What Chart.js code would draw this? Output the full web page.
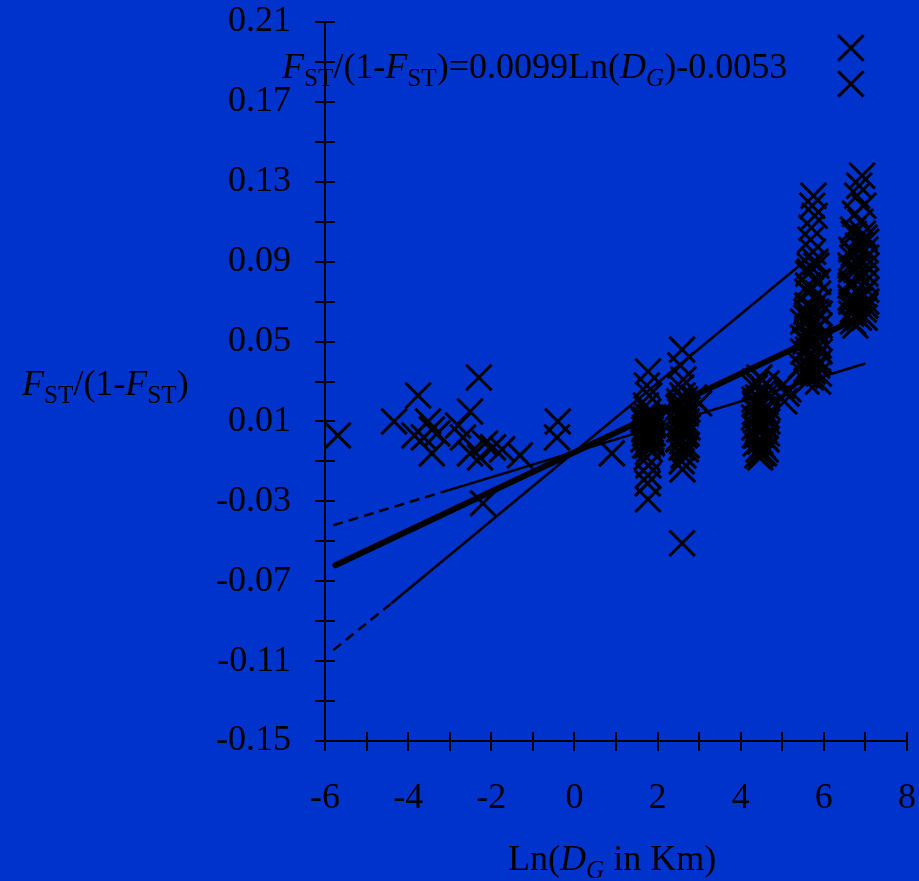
<!DOCTYPE html>
<html>
<head>
<meta charset="utf-8">
<title>Fst vs ln distance</title>
<script src="https://cdn.jsdelivr.net/npm/chart.js@4.4.1/dist/chart.umd.min.js"></script>
<style>
  html, body { margin: 0; padding: 0; background: #0033cc; }
  #wrap { width: 919px; height: 881px; }
</style>
</head>
<body>
<div id="wrap"><canvas id="fstChart" width="919" height="881"></canvas></div>
<script>
// pairwise points: x = Ln(DG in km), y = Fst/(1-Fst)
const lnDistance = [
  // short distances
  -5.69, -4.34, -3.76, -3.52, -3.43, -3.62, -3.43, -3.30, -3.85,
  -2.51, -2.30, -2.80, -2.68, -2.51, -2.15, -2.27, -1.96, -1.74, -1.31,
  -0.40, -0.42, 0.90, -2.20,
  // ~1.8
  1.77, 1.74, 1.80, 1.72, 1.78, 1.83, 1.75, 1.80, 1.70, 1.77, 1.84, 1.73, 1.79, 1.76,
  1.81, 1.74, 1.78, 1.77, 1.76, 1.77, 1.82, 1.75, 1.79, 1.71,
  1.85, 1.70, 1.88, 1.68, 1.86, 1.72, 1.90, 1.66,
  1.68, 1.88, 1.70, 1.90, 1.66, 1.86, 1.74, 1.84,
  // ~2.6
  2.59, 2.55, 2.62, 2.57, 2.60, 2.66, 2.54, 2.61, 2.58, 2.63, 2.56, 2.60, 2.65,
  2.59, 2.57, 2.62, 2.58, 2.60, 2.59, 3.00, 2.88,
  2.70, 2.52, 2.68, 2.50, 2.72, 2.53, 2.70, 2.55,
  2.52, 2.70, 2.50, 2.72, 2.54, 2.68, 2.52, 2.72,
  // ~4.5
  4.45, 4.38, 4.52, 4.58, 4.42, 4.50, 4.38, 4.55, 4.45, 4.60, 4.40, 4.50,
  4.56, 4.42, 4.48, 4.38, 4.58, 4.47, 4.52, 4.43, 4.49, 4.47,
  4.35, 4.62, 4.33, 4.63, 4.36, 4.62, 4.34, 4.60, 4.65, 4.32,
  4.35, 4.62, 4.33, 4.64, 4.36, 4.62, 4.34, 4.60, 4.40, 4.56,
  // ~5.1
  5.00, 5.10, 5.05, 5.15,
  // ~5.7
  5.75, 5.72, 5.78, 5.70, 5.68, 5.74, 5.80, 5.66, 5.84, 5.70, 5.76, 5.62,
  5.82, 5.68, 5.74, 5.79, 5.64, 5.72, 5.83, 5.70, 5.76, 5.66, 5.73, 5.69,
  5.50, 5.45, 5.50, 5.55, 5.50,
  5.60, 5.88, 5.58, 5.90, 5.60, 5.88, 5.60, 5.90, 5.62, 5.86, 5.58, 5.88,
  5.58, 5.90, 5.60, 5.88, 5.56, 5.90, 5.62, 5.86, 5.58, 5.86, 5.62, 5.84, 5.66, 5.82,
  // ~6.8
  6.65, 6.65,
  6.92, 6.85, 6.80, 6.95, 6.75, 6.88, 6.70, 6.98, 6.82, 6.72, 6.90, 6.78,
  6.86, 6.68, 6.94, 6.80, 6.74, 6.84, 6.76,
  6.66, 7.02, 6.64, 7.00, 6.66, 7.02, 6.64, 7.00, 6.66, 7.02, 6.70, 6.98,
  6.66, 7.02, 6.64, 7.00, 6.68, 7.02, 6.66, 7.00, 6.70, 6.96, 6.72, 6.94
];
const fstRatio = [
  0.003, 0.010, 0.023, 0.010, 0.006, 0.002, -0.006, 0.004, 0.003,
  0.015, 0.032, 0.008, 0.002, -0.006, -0.001, -0.008, -0.003, -0.004, -0.007,
  0.010, 0.002, -0.006, -0.031,
  0.035, 0.028, 0.023, 0.018, 0.015, 0.012, 0.010, 0.008, 0.007, 0.006, 0.004, 0.003, 0.001, -0.002,
  -0.004, -0.008, -0.012, -0.017, -0.021, -0.029, 0.009, 0.005, 0.000, 0.011,
  0.002, 0.004, 0.008, 0.010, -0.001, 0.007, 0.012, 0.001,
  0.006, 0.004, -0.002, 0.009, 0.011, 0.000, 0.013, 0.006,
  0.046, 0.038, 0.031, 0.027, 0.023, 0.021, 0.018, 0.016, 0.013, 0.011, 0.008, 0.006, 0.003,
  0.000, -0.003, -0.007, -0.010, -0.014, -0.051, 0.019, 0.022,
  0.004, 0.009, 0.014, 0.017, 0.019, 0.002, -0.002, 0.012,
  0.006, 0.010, 0.001, 0.007, 0.015, -0.004, 0.020, 0.016,
  0.032, 0.029, 0.027, 0.025, 0.022, 0.020, 0.018, 0.016, 0.014, 0.012, 0.011, 0.009,
  0.008, 0.006, 0.005, 0.003, 0.002, 0.000, -0.002, -0.004, -0.006, -0.008,
  0.019, 0.013, 0.007, 0.004, -0.001, 0.023, 0.027, -0.004, 0.017, 0.012,
  0.030, 0.029, 0.021, 0.010, 0.015, 0.001, 0.003, 0.008, -0.007, -0.006,
  0.028, 0.024, 0.020, 0.026,
  0.123, 0.118, 0.113, 0.107, 0.101, 0.095, 0.090, 0.085, 0.080, 0.076, 0.072, 0.068,
  0.065, 0.062, 0.059, 0.056, 0.053, 0.050, 0.047, 0.044, 0.041, 0.038, 0.035, 0.032,
  0.045, 0.038, 0.052, 0.033, 0.060,
  0.075, 0.070, 0.065, 0.058, 0.055, 0.048, 0.042, 0.040, 0.084, 0.080, 0.036, 0.034,
  0.062, 0.064, 0.068, 0.052, 0.050, 0.045, 0.078, 0.074, 0.030, 0.030, 0.046, 0.038, 0.088, 0.088,
  0.197, 0.179,
  0.133, 0.128, 0.123, 0.118, 0.114, 0.110, 0.106, 0.102, 0.098, 0.094, 0.090, 0.086,
  0.082, 0.078, 0.074, 0.070, 0.066, 0.062, 0.058,
  0.096, 0.092, 0.088, 0.084, 0.080, 0.076, 0.072, 0.068, 0.064, 0.100, 0.060, 0.062,
  0.070, 0.070, 0.078, 0.080, 0.092, 0.088, 0.086, 0.096, 0.066, 0.066, 0.104, 0.104
];

// fitted lines (end points)
const mainFitX = [-5.75, 6.95];
const mainFitY = [-0.062, 0.063];
const steepFitX = [-5.8, -4.4, 5.7];
const steepFitY = [-0.1045, -0.081, 0.093];
const flatFitX = [-5.8, -3.2, 7.0];
const flatFitY = [-0.042, -0.0255, 0.039];

const SERIF = '"Liberation Serif", "Times New Roman", serif';

function pairs(xs, ys) {
  return xs.map((x, i) => ({ x: x, y: ys[i] }));
}

// writes a label made of plain / italic / subscript pieces
function drawRich(c, parts, x, y, size) {
  let cx = x;
  parts.forEach(p => {
    const fs = p.sub ? size * 0.7 : size;
    c.font = (p.it ? 'italic ' : '') + fs + 'px ' + SERIF;
    c.fillText(p.t, cx, p.sub ? y + size * 0.22 : y);
    cx += c.measureText(p.t).width;
  });
}

const eqParts = [
  { t: 'F', it: true }, { t: 'ST', sub: true }, { t: '/(1-' },
  { t: 'F', it: true }, { t: 'ST', sub: true }, { t: ')=0.0099Ln(' },
  { t: 'D', it: true }, { t: 'G', it: true, sub: true }, { t: ')-0.0053' }
];
const yTitleParts = [
  { t: 'F', it: true }, { t: 'ST', sub: true }, { t: '/(1-' },
  { t: 'F', it: true }, { t: 'ST', sub: true }, { t: ')' }
];
const xTitleParts = [
  { t: 'Ln(' }, { t: 'D', it: true }, { t: 'G', it: true, sub: true }, { t: ' in Km)' }
];

const bluePaper = {
  id: 'bluePaper',
  beforeDraw(chart) {
    const c = chart.ctx;
    c.save();
    c.fillStyle = '#0033cc';
    c.fillRect(0, 0, chart.width, chart.height);
    c.restore();
  }
};

// tick marks that cross the axis line, plus the texts with subscripts
const axisDecor = {
  id: 'axisDecor',
  afterDraw(chart) {
    const c = chart.ctx;
    const xs = chart.scales.x, ys = chart.scales.y;
    c.save();
    c.strokeStyle = '#000';
    c.lineWidth = 2;
    c.beginPath();
    ys.ticks.forEach(t => {
      const py = Math.round(ys.getPixelForValue(t.value));
      c.moveTo(xs.left - 10, py);
      c.lineTo(xs.left + 10, py);
    });
    xs.ticks.forEach(t => {
      const px = Math.round(xs.getPixelForValue(t.value));
      c.moveTo(px, ys.bottom - 9);
      c.lineTo(px, ys.bottom + 10);
    });
    c.stroke();

    c.fillStyle = '#000';
    c.textBaseline = 'alphabetic';
    c.textAlign = 'left';
    drawRich(c, eqParts, 282, 78, 36);
    drawRich(c, yTitleParts, 22, 395, 36);
    drawRich(c, xTitleParts, 508, 870, 36);
    c.restore();
  }
};

// keep the plot box where the original puts it
function noLabelPadding(s) {
  s.paddingTop = 0;
  s.paddingBottom = 0;
  s.paddingLeft = 0;
  s.paddingRight = 0;
}

new Chart(document.getElementById('fstChart'), {
  type: 'scatter',
  data: {
    datasets: [
      {
        data: pairs(mainFitX, mainFitY),
        showLine: true,
        borderColor: '#000',
        borderWidth: 6,
        borderCapStyle: 'round',
        pointRadius: 0
      },
      {
        data: pairs(steepFitX, steepFitY),
        showLine: true,
        borderColor: '#000',
        borderWidth: 2.5,
        pointRadius: 0,
        segment: { borderDash: ctx => ctx.p0DataIndex === 0 ? [10, 6] : [] }
      },
      {
        data: pairs(flatFitX, flatFitY),
        showLine: true,
        borderColor: '#000',
        borderWidth: 2.5,
        pointRadius: 0,
        segment: { borderDash: ctx => ctx.p0DataIndex === 0 ? [10, 6] : [] }
      },
      {
        data: pairs(lnDistance, fstRatio),
        pointStyle: 'crossRot',
        pointRadius: 18,
        pointBorderWidth: 3,
        borderColor: '#000',
        backgroundColor: '#000'
      }
    ]
  },
  options: {
    responsive: false,
    animation: false,
    events: [],
    clip: false,
    layout: { autoPadding: false, padding: { top: 22, right: 12, left: 0, bottom: 0 } },
    plugins: { legend: { display: false }, tooltip: { enabled: false } },
    scales: {
      x: {
        type: 'linear',
        min: -6,
        max: 8,
        afterFit: s => { s.height = 140; noLabelPadding(s); },
        grid: { display: false, drawTicks: false },
        border: { display: true, color: '#000', width: 2 },
        ticks: {
          stepSize: 1,
          autoSkip: false,
          maxRotation: 0,
          padding: 36,
          color: '#000',
          font: { family: SERIF, size: 36 },
          callback: v => (v % 2 === 0 ? String(v) : '')
        }
      },
      y: {
        type: 'linear',
        min: -0.15,
        max: 0.21,
        afterFit: s => { s.width = 325; noLabelPadding(s); },
        grid: { display: false, drawTicks: false },
        border: { display: true, color: '#000', width: 2 },
        ticks: {
          stepSize: 0.02,
          autoSkip: false,
          padding: 34,
          color: '#000',
          font: { family: SERIF, size: 36 },
          callback: (v, i) => (i % 2 === 0 ? v.toFixed(2) : '')
        }
      }
    }
  },
  plugins: [bluePaper, axisDecor]
});
</script>
</body>
</html>
